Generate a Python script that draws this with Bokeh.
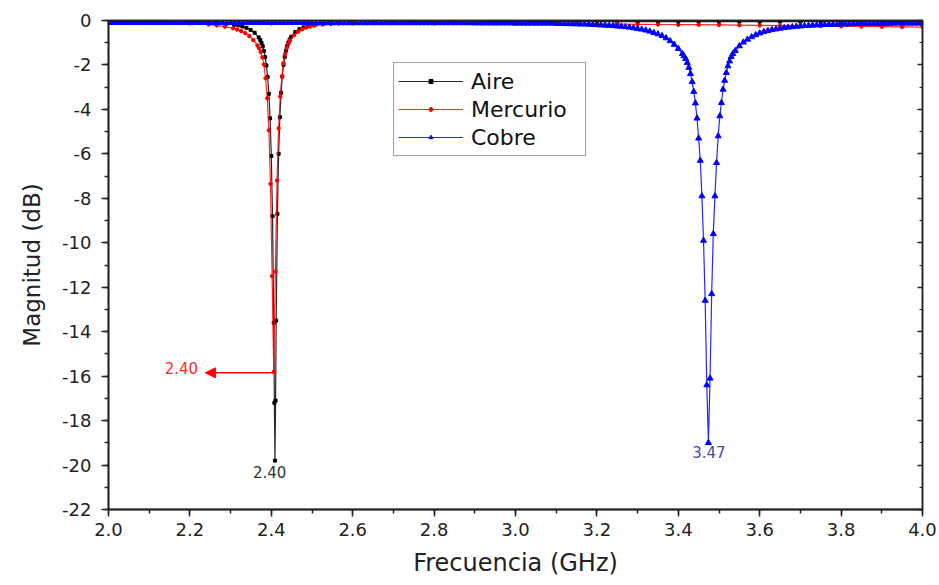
from bokeh.plotting import figure
from bokeh.models import (Range1d, LinearAxis, SingleIntervalTicker, Arrow, NormalHead,
                          ColumnDataSource, Legend, LegendItem, NumeralTickFormatter,
                          CustomJSTickFormatter)
from bokeh.embed import file_html
from bokeh.resources import INLINE
from bokeh.core.properties import value

FONT = "DejaVu Sans"

# ---------------- data ----------------
aire_freq = [2.00, 2.05, 2.10, 2.15, 2.19, 2.219, 2.249, 2.269, 2.289, 2.309, 2.319, 2.329,
             2.339, 2.349, 2.359, 2.369, 2.373, 2.376, 2.379, 2.382, 2.385, 2.388, 2.391,
             2.394, 2.397, 2.400, 2.403, 2.406, 2.4075, 2.409, 2.4105, 2.412, 2.415, 2.418,
             2.421, 2.424, 2.427, 2.430, 2.433, 2.436, 2.439, 2.442, 2.445, 2.449, 2.459,
             2.469, 2.479, 2.489, 2.499, 2.509, 2.529, 2.549, 2.569, 2.599, 2.65, 2.70,
             2.75, 2.80, 2.85, 2.90, 2.95, 3.00, 3.05, 3.10, 3.15, 3.20, 3.25, 3.30, 3.35,
             3.40, 3.45, 3.50, 3.55, 3.60, 3.65, 3.70, 3.75, 3.80, 3.85, 3.90, 3.95, 4.00]
aire_db = [-0.05, -0.05, -0.06, -0.06, -0.07, -0.08, -0.10, -0.12, -0.15, -0.19, -0.22, -0.27,
           -0.33, -0.42, -0.55, -0.76, -0.88, -1.01, -1.16, -1.37, -1.65, -2.02, -2.54,
           -3.30, -4.40, -6.10, -8.80, -13.60, -17.20, -19.80, -17.10, -13.50, -8.70, -6.00,
           -4.35, -3.25, -2.52, -2.00, -1.64, -1.36, -1.15, -0.99, -0.86, -0.73, -0.52,
           -0.39, -0.31, -0.25, -0.21, -0.18, -0.14, -0.12, -0.10, -0.09, -0.08, -0.07,
           -0.06, -0.06, -0.06, -0.06, -0.05, -0.05, -0.05, -0.05, -0.05, -0.05, -0.05, -0.05, -0.05,
           -0.05, -0.05, -0.05, -0.05, -0.05, -0.05, -0.05, -0.05, -0.05, -0.05, -0.05, -0.05, -0.05]

mercurio_freq = [2.00, 2.05, 2.10, 2.15, 2.206, 2.246, 2.266, 2.286, 2.306, 2.316, 2.326, 2.336,
                 2.346, 2.356, 2.366, 2.370, 2.374, 2.378, 2.382, 2.386, 2.390, 2.394, 2.398,
                 2.402, 2.406, 2.410, 2.414, 2.418, 2.422, 2.426, 2.430, 2.434, 2.438, 2.442,
                 2.446, 2.456, 2.466, 2.476, 2.486, 2.496, 2.506, 2.526, 2.546, 2.566, 2.606,
                 2.65, 2.70, 2.75, 2.80, 2.85, 2.90, 2.95, 3.00, 3.05, 3.10, 3.15, 3.20, 3.25,
                 3.30, 3.35, 3.40, 3.45, 3.50, 3.55, 3.60, 3.65, 3.70, 3.75, 3.80, 3.85, 3.90,
                 3.95, 4.00]
mercurio_db = [-0.07, -0.08, -0.09, -0.10, -0.12, -0.18, -0.22, -0.28, -0.35, -0.41, -0.48, -0.57,
               -0.70, -0.88, -1.12, -1.25, -1.42, -1.66, -1.98, -2.60, -3.50, -4.94, -7.35,
               -11.50, -15.80, -11.30, -7.20, -4.85, -3.42, -2.52, -1.92, -1.51, -1.24, -1.05,
               -0.90, -0.66, -0.50, -0.39, -0.32, -0.27, -0.23, -0.18, -0.15, -0.13, -0.11,
               -0.10, -0.10, -0.10, -0.10, -0.11, -0.11, -0.12, -0.12, -0.13, -0.13, -0.14, -0.15, -0.16,
               -0.17, -0.18, -0.19, -0.19, -0.20, -0.21, -0.22, -0.23, -0.24, -0.25, -0.26, -0.27, -0.28,
               -0.29, -0.30]

cobre_freq = [
    2.00, 2.01, 2.02, 2.03, 2.04, 2.05, 2.06, 2.07, 2.08, 2.09,
    2.10, 2.11, 2.12, 2.13, 2.14, 2.15, 2.16, 2.17, 2.18, 2.19,
    2.20, 2.21, 2.22, 2.23, 2.24, 2.25, 2.26, 2.27, 2.28, 2.29,
    2.30, 2.31, 2.32, 2.33, 2.34, 2.35, 2.36, 2.37, 2.38, 2.39,
    2.40, 2.41, 2.42, 2.43, 2.44, 2.45, 2.46, 2.47, 2.48, 2.49,
    2.50, 2.51, 2.52, 2.53, 2.54, 2.55, 2.56, 2.57, 2.58, 2.59,
    2.60, 2.61, 2.62, 2.63, 2.64, 2.65, 2.66, 2.67, 2.68, 2.69,
    2.70, 2.71, 2.72, 2.73, 2.74, 2.75, 2.76, 2.77, 2.78, 2.79,
    2.80, 2.81, 2.82, 2.83, 2.84, 2.85, 2.86, 2.87, 2.88, 2.89,
    2.90, 2.91, 2.92, 2.93, 2.94, 2.95, 2.96, 2.97, 2.98, 2.99,
    3.00, 3.01, 3.02, 3.03, 3.04, 3.05, 3.06, 3.07, 3.08, 3.09,
    3.10, 3.11, 3.12, 3.13, 3.14, 3.15, 3.16, 3.17, 3.18, 3.19,
    3.20, 3.21, 3.22, 3.23, 3.24, 3.25, 3.26, 3.27, 3.28, 3.29,
    3.30, 3.31, 3.32, 3.33, 3.34, 3.35, 3.36, 3.37, 3.38, 3.39,
    3.40, 3.41,
    3.414, 3.418, 3.422, 3.426, 3.430, 3.434, 3.438, 3.442, 3.446, 3.450,
    3.454, 3.458, 3.462, 3.466, 3.470, 3.474, 3.478, 3.482, 3.486, 3.490,
    3.494, 3.498, 3.502, 3.506, 3.510, 3.514, 3.518, 3.522, 3.526, 3.530, 3.534,
    3.54, 3.55, 3.56, 3.57, 3.58, 3.59,
    3.60, 3.61, 3.62, 3.63, 3.64, 3.65, 3.66, 3.67, 3.68, 3.69,
    3.70, 3.71, 3.72, 3.73, 3.74, 3.75, 3.76, 3.77, 3.78, 3.79,
    3.80, 3.81, 3.82, 3.83, 3.84, 3.85, 3.86, 3.87, 3.88, 3.89,
    3.90, 3.91, 3.92, 3.93, 3.94, 3.95, 3.96, 3.97, 3.98, 3.99, 4.00]
cobre_db = [
    -0.10, -0.10, -0.10, -0.10, -0.10, -0.10, -0.10, -0.10, -0.10, -0.10,
    -0.10, -0.10, -0.10, -0.10, -0.10, -0.10, -0.10, -0.10, -0.10, -0.10,
    -0.10, -0.10, -0.10, -0.10, -0.10, -0.10, -0.10, -0.10, -0.10, -0.10,
    -0.10, -0.10, -0.10, -0.10, -0.10, -0.10, -0.10, -0.10, -0.10, -0.10,
    -0.10, -0.10, -0.10, -0.10, -0.10, -0.10, -0.10, -0.10, -0.10, -0.10,
    -0.11, -0.11, -0.11, -0.11, -0.11, -0.11, -0.11, -0.11, -0.11, -0.11,
    -0.11, -0.11, -0.11, -0.11, -0.11, -0.11, -0.11, -0.11, -0.11, -0.11,
    -0.11, -0.11, -0.11, -0.11, -0.11, -0.11, -0.11, -0.11, -0.11, -0.11,
    -0.11, -0.11, -0.11, -0.11, -0.11, -0.11, -0.11, -0.11, -0.11, -0.11,
    -0.12, -0.12, -0.12, -0.12, -0.12, -0.12, -0.12, -0.12, -0.12, -0.12,
    -0.13, -0.13, -0.13, -0.13, -0.13, -0.13, -0.13, -0.13, -0.13, -0.13,
    -0.14, -0.14, -0.15, -0.15, -0.16, -0.16, -0.17, -0.17, -0.18, -0.19,
    -0.20, -0.21, -0.22, -0.23, -0.24, -0.26, -0.27, -0.29, -0.31, -0.34,
    -0.37, -0.40, -0.44, -0.49, -0.55, -0.61, -0.69, -0.79, -0.92, -1.08,
    -1.27, -1.50,
    -1.60, -1.72, -1.90, -2.12, -2.40, -2.76, -3.20, -3.72, -4.40, -5.30,
    -6.30, -7.90, -9.90, -12.60, -16.40, -19.00, -16.10, -12.30, -9.60, -7.90,
    -6.40, -5.20, -4.30, -3.70, -3.10, -2.70, -2.35, -2.05, -1.83, -1.63, -1.50,
    -1.36, -1.15, -0.98, -0.85, -0.74, -0.65,
    -0.57, -0.51, -0.46, -0.42, -0.39, -0.36, -0.33, -0.31, -0.29, -0.27,
    -0.26, -0.24, -0.23, -0.22, -0.21, -0.20, -0.19, -0.19, -0.18, -0.18,
    -0.17, -0.16, -0.16, -0.15, -0.15, -0.15, -0.14, -0.14, -0.14, -0.14,
    -0.14, -0.14, -0.14, -0.13, -0.13, -0.13, -0.13, -0.13, -0.13, -0.13, -0.13]

series_names = ["Aire", "Mercurio", "Cobre"]

# annotations
ann_text = ["2.40", "2.40", "3.47"]
ann_x = [2.396, 2.179, 3.475]
ann_y = [-20.3, -15.63, -19.4]
ann_color = ["#333333", "#ff2a2a", "#4a4aa6"]
arrow_x_from = 2.406
arrow_x_to = 2.238
arrow_y = -15.85

x_ticks_interval = 0.2
y_ticks_interval = 2

# ---------------- figure ----------------
p = figure(width=939, height=585, output_backend="svg", toolbar_location=None,
           x_range=Range1d(2.0, 4.0), y_range=Range1d(-22, 0),
           min_border_left=108, min_border_right=17, min_border_top=20,
           min_border_bottom=76, background_fill_color="white",
           border_fill_color="white")
p.xgrid.visible = False
p.ygrid.visible = False
p.outline_line_color = "#222222"
p.outline_line_width = 1.5

AX_COLOR = "#222222"
for ax in (p.xaxis[0], p.yaxis[0]):
    ax.axis_line_color = AX_COLOR
    ax.axis_line_width = 1.8
    ax.major_tick_line_color = AX_COLOR
    ax.minor_tick_line_color = AX_COLOR
    ax.major_tick_line_width = 1.5
    ax.minor_tick_line_width = 1.5
    ax.major_tick_in = 0
    ax.major_tick_out = 7
    ax.minor_tick_in = 0
    ax.minor_tick_out = 4
    ax.major_label_text_font = FONT
    ax.major_label_text_font_size = "18px"
    ax.major_label_text_color = "#222222"
    ax.axis_label_text_font = FONT
    ax.axis_label_text_font_style = "normal"
    ax.axis_label_text_color = "#222222"

p.xaxis.ticker = SingleIntervalTicker(interval=x_ticks_interval, num_minor_ticks=2)
p.yaxis.ticker = SingleIntervalTicker(interval=y_ticks_interval, num_minor_ticks=2)
p.xaxis.formatter = NumeralTickFormatter(format="0.0")
p.yaxis.formatter = NumeralTickFormatter(format="0")
p.xaxis.axis_label = "Frecuencia (GHz)"
p.yaxis.axis_label = "Magnitud (dB)"
p.xaxis.axis_label_text_font_size = "24px"
p.yaxis.axis_label_text_font_size = "23px"
p.xaxis.major_label_standoff = 6
p.yaxis.major_label_standoff = 10
p.xaxis.axis_label_standoff = 10
p.yaxis.axis_label_standoff = 14

empty_fmt = CustomJSTickFormatter(code="return ''")
top = LinearAxis(ticker=SingleIntervalTicker(interval=x_ticks_interval, num_minor_ticks=2),
                 formatter=empty_fmt, major_label_text_font_size="0px",
                 major_label_standoff=0, major_tick_in=5, major_tick_out=0,
                 minor_tick_in=3, minor_tick_out=0, axis_line_color=AX_COLOR,
                 axis_line_width=1.5, major_tick_line_color=AX_COLOR,
                 minor_tick_line_color=AX_COLOR, major_tick_line_width=1.5)
right = LinearAxis(ticker=SingleIntervalTicker(interval=y_ticks_interval, num_minor_ticks=2),
                   formatter=empty_fmt, major_label_text_font_size="0px",
                   major_label_standoff=0, major_tick_in=5, major_tick_out=0,
                   minor_tick_in=3, minor_tick_out=0, axis_line_color=AX_COLOR,
                   axis_line_width=1.5, major_tick_line_color=AX_COLOR,
                   minor_tick_line_color=AX_COLOR, major_tick_line_width=1.5)
p.add_layout(top, "above")
p.add_layout(right, "right")

src_a = ColumnDataSource(dict(x=aire_freq, y=aire_db))
src_m = ColumnDataSource(dict(x=mercurio_freq, y=mercurio_db))
src_c = ColumnDataSource(dict(x=cobre_freq, y=cobre_db))

la = p.line("x", "y", source=src_a, line_color="black", line_width=1.2, line_alpha=0.85)
ma = p.scatter("x", "y", source=src_a, marker="square", size=3, color="black")
lm = p.line("x", "y", source=src_m, line_color="#ff0000", line_width=1.2, line_alpha=0.85)
mm = p.scatter("x", "y", source=src_m, marker="circle", size=3.5, color="#ff0000")
lc = p.line("x", "y", source=src_c, line_color="#0000ff", line_width=1.2, line_alpha=0.85)
mc = p.scatter("x", "y", source=src_c, marker="triangle", size=6, color="#0000ff")

# annotations
src_t = ColumnDataSource(dict(x=ann_x, y=ann_y, t=ann_text, c=ann_color))
p.text("x", "y", text="t", source=src_t, text_color="c", text_font=value(FONT),
       text_font_size="15px", text_align="center", text_baseline="middle")
p.add_layout(Arrow(end=NormalHead(size=10, fill_color="#ff0000", line_color="#ff0000"),
                   x_start=arrow_x_from, y_start=arrow_y, x_end=arrow_x_to, y_end=arrow_y,
                   line_color="#ff0000", line_width=1.5))

legend = Legend(items=[LegendItem(label=series_names[0], renderers=[la, ma]),
                       LegendItem(label=series_names[1], renderers=[lm, mm]),
                       LegendItem(label=series_names[2], renderers=[lc, mc])],
                location=(285, 353), orientation="vertical",
                glyph_width=65, glyph_height=10, label_height=28, label_width=110,
                label_standoff=8, padding=4, spacing=0, margin=0,
                label_text_font=FONT, label_text_font_size="22px",
                label_text_color="#111111", border_line_color="#444444",
                border_line_width=1.5, background_fill_color="white",
                background_fill_alpha=1.0)
p.add_layout(legend)

open("out.html", "w").write(file_html(p, INLINE))
